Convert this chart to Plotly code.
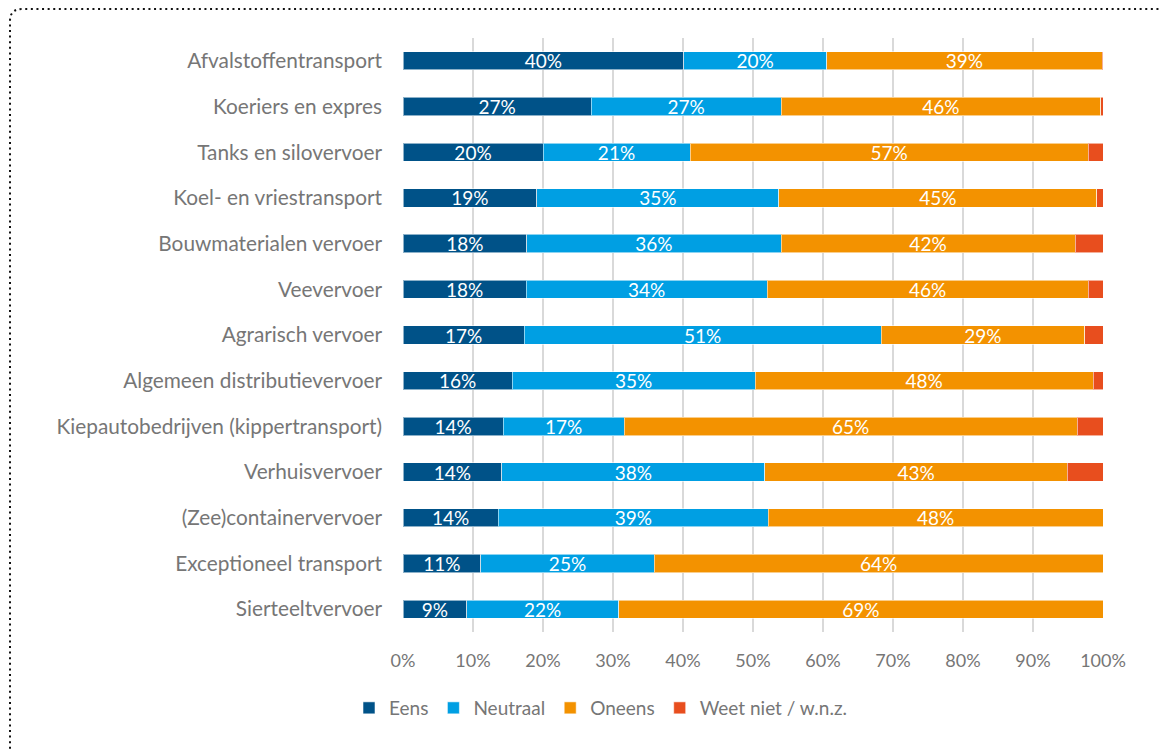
import plotly.graph_objects as go

categories = [
    "Afvalstoffentransport",
    "Koeriers en expres",
    "Tanks en silovervoer",
    "Koel- en vriestransport",
    "Bouwmaterialen vervoer",
    "Veevervoer",
    "Agrarisch vervoer",
    "Algemeen distributievervoer",
    "Kiepautobedrijven (kippertransport)",
    "Verhuisvervoer",
    "(Zee)containervervoer",
    "Exceptioneel transport",
    "Sierteeltvervoer",
]
eens = [40.1, 26.9, 20.0, 19.1, 17.7, 17.6, 17.3, 15.6, 14.3, 14.1, 13.6, 11.1, 9.1]
neutraal = [20.4, 27.1, 21.0, 34.6, 36.3, 34.4, 51.0, 34.7, 17.3, 37.6, 38.6, 24.8, 21.7]
oneens = [39.4, 45.7, 56.9, 45.4, 42.0, 45.9, 29.1, 48.3, 64.7, 43.2, 47.8, 64.1, 69.2]
weet_niet = [0.1, 0.3, 2.1, 0.9, 4.0, 2.1, 2.6, 1.4, 3.7, 5.1, 0.0, 0.0, 0.0]

series = [
    ("Eens", eens, "#005288", True),
    ("Neutraal", neutraal, "#009FE3", True),
    ("Oneens", oneens, "#F39200", True),
    ("Weet niet / w.n.z.", weet_niet, "#E84E1E", False),
]

x_ticks = [0, 10, 20, 30, 40, 50, 60, 70, 80, 90, 100]
x_ticktext = [f"{v}%" for v in x_ticks]

FONT = "Lato, 'Open Sans', sans-serif"
GREY = "#767676"

fig = go.Figure()
for name, vals, color, show_text in series:
    fig.add_trace(go.Bar(
        name=name,
        y=categories,
        x=vals,
        orientation="h",
        marker=dict(color=color, line=dict(color="rgba(255,255,255,0.55)", width=1)),
        texttemplate="%{x:.0f}%" if show_text else "",
        textposition="inside",
        insidetextanchor="middle",
        textangle=0,
        constraintext="none",
        textfont=dict(color="white", size=19, family=FONT),
        hoverinfo="skip",
    ))

# page offset (default body margin of the html page)
OFF = 8
W, H = 1170 - OFF, 749 - OFF
# plot area in page pixels
PX0, PX1, PY0, PY1 = 403, 1103, 38, 632
L, R, T, B = PX0 - OFF, W - (PX1 - OFF), PY0 - OFF, H - (PY1 - OFF)
pw, ph = PX1 - PX0, PY1 - PY0

def px(x):
    return (x - PX0) / pw

def py(y):
    return (PY1 - y) / ph

border = (
    f"M {px(10)},{py(760)} L {px(10)},{py(21)} "
    f"Q {px(10)},{py(9)} {px(22)},{py(9)} L {px(1185)},{py(9)}"
)

fig.update_layout(
    barmode="stack",
    bargap=0.6,
    width=W,
    height=H,
    margin=dict(l=L, r=R, t=T, b=B, autoexpand=False),
    paper_bgcolor="white",
    plot_bgcolor="white",
    font=dict(family=FONT, size=18, color=GREY),
    showlegend=True,
    legend=dict(
        orientation="h",
        x=px(601),
        xanchor="center",
        y=py(708),
        yanchor="middle",
        font=dict(size=19, color=GREY, family=FONT),
        itemwidth=30,
        traceorder="normal",
    ),
    xaxis=dict(
        range=[0, 100],
        tickvals=x_ticks,
        ticktext=x_ticktext,
        showgrid=True,
        gridcolor="#D9D9D9",
        gridwidth=2,
        zeroline=False,
        showline=False,
        ticks="",
        ticklabelstandoff=16,
        tickfont=dict(size=18, color=GREY, family=FONT),
        fixedrange=True,
    ),
    yaxis=dict(
        categoryorder="array",
        categoryarray=categories,
        autorange="reversed",
        showgrid=False,
        showline=False,
        ticks="",
        ticklabelstandoff=20,
        tickfont=dict(size=20.8, color=GREY, family=FONT),
        fixedrange=True,
    ),
    shapes=[dict(
        type="path",
        xref="paper",
        yref="paper",
        path=border,
        line=dict(color="#111111", width=2, dash="2px,3.6px"),
        layer="above",
    )],
)

fig.write_html("out.html")
